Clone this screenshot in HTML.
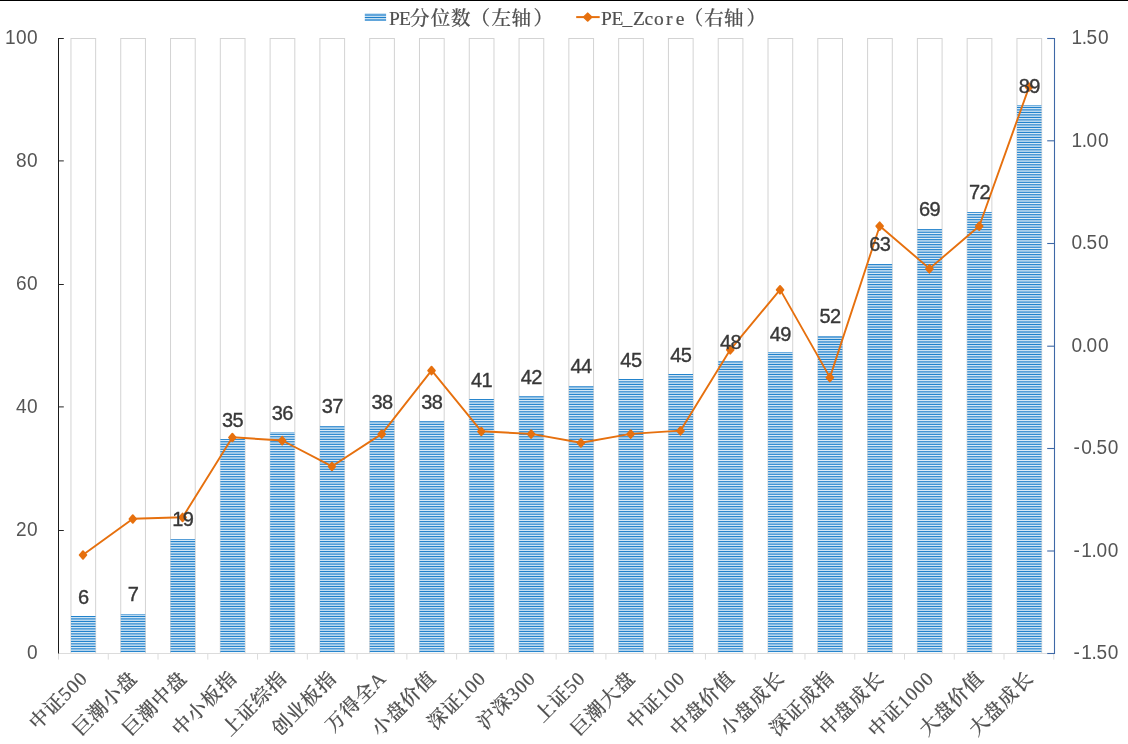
<!DOCTYPE html>
<html lang="zh-CN"><head><meta charset="utf-8"><title>PE分位数（左轴） PE_Zcore（右轴）</title>
<style>
html,body{margin:0;padding:0;background:#fff;}
body{width:1128px;height:744px;overflow:hidden;}
svg{display:block;}
.ax{font-family:"Liberation Sans","Noto Sans CJK SC",sans-serif;font-size:20.5px;fill:#555555;}
.dl{font-family:"Liberation Sans","Noto Sans CJK SC",sans-serif;font-size:20px;fill:#383838;stroke:#383838;stroke-width:0.35px;text-anchor:middle;letter-spacing:-0.6px;}
.cat{font-family:"Liberation Serif","Noto Serif CJK SC",serif;font-size:19.5px;font-weight:500;fill:#505050;stroke:#505050;stroke-width:0.2px;text-anchor:end;letter-spacing:0.9px;}
.leg{font-family:"Liberation Serif","Noto Serif CJK SC",serif;font-size:19.5px;font-weight:500;fill:#505050;stroke:#505050;stroke-width:0.2px;}
.lat{font-size:19.0px;}
.lo{font-size:21px;}
</style></head><body>
<svg width="1128" height="744" viewBox="0 0 1128 744">
<defs>
<linearGradient id="hz" gradientUnits="userSpaceOnUse" x1="0" y1="651.38000" x2="0" y2="652.62755" spreadMethod="reflect"><stop offset="0.0000" stop-color="#1c7fca"/><stop offset="0.0802" stop-color="#2383cc"/><stop offset="0.3206" stop-color="#569ed8"/><stop offset="0.4008" stop-color="#62a6db"/><stop offset="0.4809" stop-color="#88bde4"/><stop offset="0.7214" stop-color="#b5d5ee"/><stop offset="0.8817" stop-color="#d5e8f5"/><stop offset="1.0000" stop-color="#e1eef8"/></linearGradient>
<linearGradient id="hzl" gradientUnits="userSpaceOnUse" x1="0" y1="17.500" x2="0" y2="18.750" spreadMethod="reflect"><stop offset="0.0000" stop-color="#1c7fca"/><stop offset="0.0802" stop-color="#2383cc"/><stop offset="0.3206" stop-color="#569ed8"/><stop offset="0.4008" stop-color="#62a6db"/><stop offset="0.4809" stop-color="#88bde4"/><stop offset="0.7214" stop-color="#b5d5ee"/><stop offset="0.8817" stop-color="#d5e8f5"/><stop offset="1.0000" stop-color="#e1eef8"/></linearGradient>
</defs>
<rect x="0" y="0" width="1128" height="744" fill="#ffffff"/>
<rect x="0" y="0" width="1128" height="1" fill="#000000"/>
<g fill="#ffffff" stroke="#d3d3d3" stroke-width="1">
<rect x="70.95" y="38.5" width="24.70" height="615"/>
<rect x="120.74" y="38.5" width="24.70" height="615"/>
<rect x="170.53" y="38.5" width="24.70" height="615"/>
<rect x="220.32" y="38.5" width="24.70" height="615"/>
<rect x="270.11" y="38.5" width="24.70" height="615"/>
<rect x="319.90" y="38.5" width="24.70" height="615"/>
<rect x="369.69" y="38.5" width="24.70" height="615"/>
<rect x="419.48" y="38.5" width="24.70" height="615"/>
<rect x="469.27" y="38.5" width="24.70" height="615"/>
<rect x="519.06" y="38.5" width="24.70" height="615"/>
<rect x="568.85" y="38.5" width="24.70" height="615"/>
<rect x="618.64" y="38.5" width="24.70" height="615"/>
<rect x="668.43" y="38.5" width="24.70" height="615"/>
<rect x="718.22" y="38.5" width="24.70" height="615"/>
<rect x="768.01" y="38.5" width="24.70" height="615"/>
<rect x="817.80" y="38.5" width="24.70" height="615"/>
<rect x="867.59" y="38.5" width="24.70" height="615"/>
<rect x="917.38" y="38.5" width="24.70" height="615"/>
<rect x="967.17" y="38.5" width="24.70" height="615"/>
<rect x="1016.96" y="38.5" width="24.70" height="615"/>
</g>
<g fill="url(#hz)">
<rect x="71.00" y="616.00" width="24.50" height="36.40"/>
<rect x="120.79" y="614.00" width="24.50" height="38.40"/>
<rect x="170.58" y="539.00" width="24.50" height="113.40"/>
<rect x="220.37" y="439.00" width="24.50" height="213.40"/>
<rect x="270.16" y="432.00" width="24.50" height="220.40"/>
<rect x="319.95" y="426.00" width="24.50" height="226.40"/>
<rect x="369.74" y="421.00" width="24.50" height="231.40"/>
<rect x="419.53" y="421.00" width="24.50" height="231.40"/>
<rect x="469.32" y="399.00" width="24.50" height="253.40"/>
<rect x="519.11" y="396.00" width="24.50" height="256.40"/>
<rect x="568.90" y="386.00" width="24.50" height="266.40"/>
<rect x="618.69" y="379.00" width="24.50" height="273.40"/>
<rect x="668.48" y="374.00" width="24.50" height="278.40"/>
<rect x="718.27" y="361.00" width="24.50" height="291.40"/>
<rect x="768.06" y="352.00" width="24.50" height="300.40"/>
<rect x="817.85" y="336.00" width="24.50" height="316.40"/>
<rect x="867.64" y="264.00" width="24.50" height="388.40"/>
<rect x="917.43" y="229.00" width="24.50" height="423.40"/>
<rect x="967.22" y="212.00" width="24.50" height="440.40"/>
<rect x="1017.01" y="105.00" width="24.50" height="547.40"/>
</g>
<g stroke="#dcdcdc" stroke-width="1" fill="none">
<line x1="58" y1="653.5" x2="1055" y2="653.5"/>
<line x1="58.50" y1="653.5" x2="58.50" y2="659.6"/>
<line x1="108.27" y1="653.5" x2="108.27" y2="659.6"/>
<line x1="158.03" y1="653.5" x2="158.03" y2="659.6"/>
<line x1="207.80" y1="653.5" x2="207.80" y2="659.6"/>
<line x1="257.56" y1="653.5" x2="257.56" y2="659.6"/>
<line x1="307.32" y1="653.5" x2="307.32" y2="659.6"/>
<line x1="357.09" y1="653.5" x2="357.09" y2="659.6"/>
<line x1="406.86" y1="653.5" x2="406.86" y2="659.6"/>
<line x1="456.62" y1="653.5" x2="456.62" y2="659.6"/>
<line x1="506.38" y1="653.5" x2="506.38" y2="659.6"/>
<line x1="556.15" y1="653.5" x2="556.15" y2="659.6"/>
<line x1="605.91" y1="653.5" x2="605.91" y2="659.6"/>
<line x1="655.68" y1="653.5" x2="655.68" y2="659.6"/>
<line x1="705.45" y1="653.5" x2="705.45" y2="659.6"/>
<line x1="755.21" y1="653.5" x2="755.21" y2="659.6"/>
<line x1="804.98" y1="653.5" x2="804.98" y2="659.6"/>
<line x1="854.74" y1="653.5" x2="854.74" y2="659.6"/>
<line x1="904.50" y1="653.5" x2="904.50" y2="659.6"/>
<line x1="954.27" y1="653.5" x2="954.27" y2="659.6"/>
<line x1="1004.03" y1="653.5" x2="1004.03" y2="659.6"/>
<line x1="1053.80" y1="653.5" x2="1053.80" y2="659.6"/>
</g>
<g stroke="#1a1a1a" stroke-width="1" fill="none">
<line x1="58.5" y1="38" x2="58.5" y2="653.5"/>
</g>
<g stroke="#262626" stroke-width="1" fill="none">
<line x1="58.5" y1="38.50" x2="63.8" y2="38.50"/>
<line x1="58.5" y1="160.90" x2="63.8" y2="160.90"/>
<line x1="58.5" y1="284.50" x2="63.8" y2="284.50"/>
<line x1="58.5" y1="406.90" x2="63.8" y2="406.90"/>
<line x1="58.5" y1="530.50" x2="63.8" y2="530.50"/>
</g>
<g stroke="#3e68a6" stroke-width="1.1" fill="none">
<line x1="1054.5" y1="38" x2="1054.5" y2="654"/>
<line x1="1047.2" y1="38.50" x2="1054.5" y2="38.50"/>
<line x1="1047.2" y1="140.80" x2="1054.5" y2="140.80"/>
<line x1="1047.2" y1="243.50" x2="1054.5" y2="243.50"/>
<line x1="1047.2" y1="346.20" x2="1054.5" y2="346.20"/>
<line x1="1047.2" y1="448.50" x2="1054.5" y2="448.50"/>
<line x1="1047.2" y1="551.00" x2="1054.5" y2="551.00"/>
<line x1="1047.2" y1="653.50" x2="1054.5" y2="653.50"/>
</g>
<g class="ax" text-anchor="end">
</g>
<g class="ax">
<text transform="translate(4.90 44.20) scale(0.93 1)" x="0.00 11.94 23.87">100</text>
<text transform="translate(16.00 167.20) scale(0.93 1)" x="0.00 11.94">80</text>
<text transform="translate(16.00 290.20) scale(0.93 1)" x="0.00 11.94">60</text>
<text transform="translate(16.00 413.20) scale(0.93 1)" x="0.00 11.94">40</text>
<text transform="translate(16.00 536.20) scale(0.93 1)" x="0.00 11.94">20</text>
<text transform="translate(27.10 659.20) scale(0.93 1)" x="0.00">0</text>
</g>
<g class="ax" text-anchor="start">
<text transform="translate(1071.50 44.20) scale(0.93 1)" x="0.00 10.91 16.24 28.55">1.50</text>
<text transform="translate(1071.50 146.70) scale(0.93 1)" x="0.00 10.91 16.24 28.55">1.00</text>
<text transform="translate(1071.50 249.20) scale(0.93 1)" x="0.00 10.91 16.24 28.55">0.50</text>
<text transform="translate(1071.50 351.70) scale(0.93 1)" x="0.00 10.91 16.24 28.55">0.00</text>
<text transform="translate(1073.45 454.20) scale(0.93 1)" x="0.00 8.44 19.35 24.68 36.99">-0.50</text>
<text transform="translate(1073.45 556.70) scale(0.93 1)" x="0.00 8.44 19.35 24.68 36.99">-1.00</text>
<text transform="translate(1073.45 659.20) scale(0.93 1)" x="0.00 8.44 19.35 24.68 36.99">-1.50</text>
</g>
<polyline points="83.10,554.80 132.89,518.80 182.68,517.20 232.47,437.30 282.26,440.50 332.05,466.30 381.84,433.90 431.63,370.40 481.42,431.30 531.21,433.90 581.00,442.70 630.79,433.90 680.58,430.60 730.37,349.60 780.16,289.60 829.95,377.40 879.74,226.00 929.53,268.60 979.32,226.00 1029.11,86.90" fill="none" stroke="#e6700e" stroke-width="1.9" stroke-linejoin="round"/>
<g fill="#e6700e" stroke="#e6700e" stroke-width="1.8" stroke-linejoin="round">
<path d="M83.00 551.10L86.40 555.00L83.00 558.90L79.60 555.00Z"/>
<path d="M132.79 515.10L136.19 519.00L132.79 522.90L129.39 519.00Z"/>
<path d="M182.58 513.50L185.98 517.40L182.58 521.30L179.18 517.40Z"/>
<path d="M232.37 433.60L235.77 437.50L232.37 441.40L228.97 437.50Z"/>
<path d="M282.16 436.80L285.56 440.70L282.16 444.60L278.76 440.70Z"/>
<path d="M331.95 462.60L335.35 466.50L331.95 470.40L328.55 466.50Z"/>
<path d="M381.74 430.20L385.14 434.10L381.74 438.00L378.34 434.10Z"/>
<path d="M431.53 366.70L434.93 370.60L431.53 374.50L428.13 370.60Z"/>
<path d="M481.32 427.60L484.72 431.50L481.32 435.40L477.92 431.50Z"/>
<path d="M531.11 430.20L534.51 434.10L531.11 438.00L527.71 434.10Z"/>
<path d="M580.90 439.00L584.30 442.90L580.90 446.80L577.50 442.90Z"/>
<path d="M630.69 430.20L634.09 434.10L630.69 438.00L627.29 434.10Z"/>
<path d="M680.48 426.90L683.88 430.80L680.48 434.70L677.08 430.80Z"/>
<path d="M730.27 345.90L733.67 349.80L730.27 353.70L726.87 349.80Z"/>
<path d="M780.06 285.90L783.46 289.80L780.06 293.70L776.66 289.80Z"/>
<path d="M829.85 373.70L833.25 377.60L829.85 381.50L826.45 377.60Z"/>
<path d="M879.64 222.30L883.04 226.20L879.64 230.10L876.24 226.20Z"/>
<path d="M929.43 264.90L932.83 268.80L929.43 272.70L926.03 268.80Z"/>
<path d="M979.22 222.30L982.62 226.20L979.22 230.10L975.82 226.20Z"/>
<path d="M1029.01 83.20L1032.41 87.10L1029.01 91.00L1025.61 87.10Z"/>
</g>
<g class="dl">
<text x="83.20" y="603.55">6</text>
<text x="132.99" y="601.00">7</text>
<text x="182.78" y="526.30">19</text>
<text x="232.57" y="426.70">35</text>
<text x="282.36" y="419.70">36</text>
<text x="332.15" y="413.40">37</text>
<text x="381.94" y="409.00">38</text>
<text x="431.73" y="409.00">38</text>
<text x="481.52" y="386.90">41</text>
<text x="531.31" y="383.50">42</text>
<text x="581.10" y="372.70">44</text>
<text x="630.89" y="366.70">45</text>
<text x="680.68" y="362.40">45</text>
<text x="730.47" y="348.50">48</text>
<text x="780.26" y="340.90">49</text>
<text x="830.05" y="322.80">52</text>
<text x="879.84" y="251.10">63</text>
<text x="929.63" y="216.10">69</text>
<text x="979.42" y="199.30">72</text>
<text x="1029.21" y="93.30">89</text>
</g>
<g class="cat">
<text transform="translate(88.70 679.40) rotate(-45)">中证500</text>
<text transform="translate(138.49 679.40) rotate(-45)">巨潮小盘</text>
<text transform="translate(188.28 679.40) rotate(-45)">巨潮中盘</text>
<text transform="translate(238.07 679.40) rotate(-45)">中小板指</text>
<text transform="translate(287.86 679.40) rotate(-45)">上证综指</text>
<text transform="translate(337.65 679.40) rotate(-45)">创业板指</text>
<text transform="translate(387.44 679.40) rotate(-45)">万得全A</text>
<text transform="translate(437.23 679.40) rotate(-45)">小盘价值</text>
<text transform="translate(487.02 679.40) rotate(-45)">深证100</text>
<text transform="translate(536.81 679.40) rotate(-45)">沪深300</text>
<text transform="translate(586.60 679.40) rotate(-45)">上证50</text>
<text transform="translate(636.39 679.40) rotate(-45)">巨潮大盘</text>
<text transform="translate(686.18 679.40) rotate(-45)">中证100</text>
<text transform="translate(735.97 679.40) rotate(-45)">中盘价值</text>
<text transform="translate(785.76 679.40) rotate(-45)">小盘成长</text>
<text transform="translate(835.55 679.40) rotate(-45)">深证成指</text>
<text transform="translate(885.34 679.40) rotate(-45)">中盘成长</text>
<text transform="translate(935.13 679.40) rotate(-45)">中证1000</text>
<text transform="translate(984.92 679.40) rotate(-45)">大盘价值</text>
<text transform="translate(1034.71 679.40) rotate(-45)">大盘成长</text>
</g>
<rect x="364.8" y="13.15" width="21.3" height="7.85" fill="url(#hzl)"/>
<text class="leg" x="388.9 399.0 409.9 430.8 450.9 470.5 491.6 511.5 533.5" y="24.50">PE分位数（左轴）</text>
<line x1="576.2" y1="17.1" x2="599.7" y2="17.1" stroke="#e6700e" stroke-width="2"/>
<path d="M587.7 13.3L591.6 17.1L587.7 20.9L583.8 17.1Z" fill="#e6700e" stroke="#e6700e" stroke-width="1.8" stroke-linejoin="round"/>
<text class="leg" x="601.1 611.4 622.6 632.9 644.6 653.9 666.0 675.8 683.8 704.2 724.1 746.5" y="24.50">PE_Zcore（右轴）</text>
</svg></body></html>
